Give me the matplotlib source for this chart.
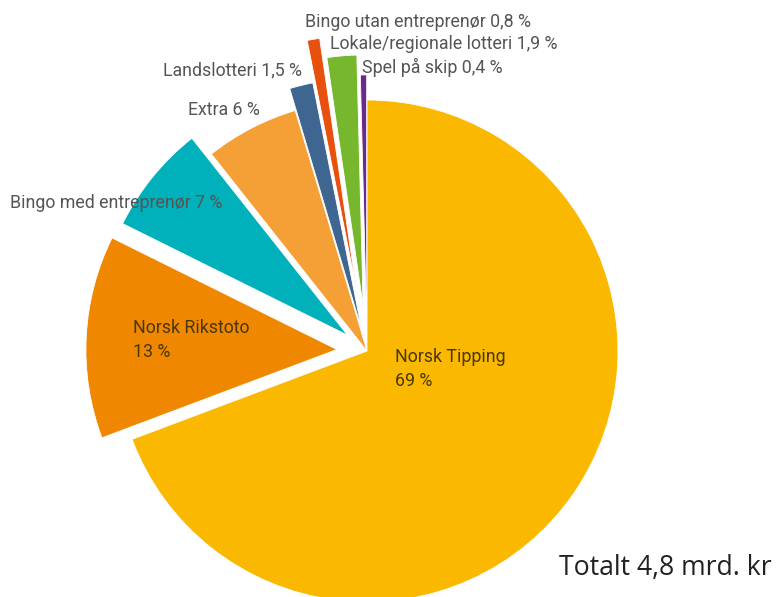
import matplotlib
matplotlib.use("Agg")
import matplotlib.pyplot as plt

categories = ["Norsk Tipping", "Norsk Rikstoto", "Bingo med entreprenør", "Extra",
              "Landslotteri", "Bingo utan entreprenør", "Lokale/regionale lotteri", "Spel på skip"]
shares = [69, 13, 7, 6, 1.5, 0.8, 1.9, 0.4]
share_labels = ["69 %", "13 %", "7 %", "6 %", "1,5 %", "0,8 %", "1,9 %", "0,4 %"]
total_label = "Totalt 4,8 mrd. kr"

colors = ["#FAB800", "#F08700", "#00B0BA", "#F4A037", "#3E6690", "#E8500E", "#77B72E", "#6B2A8A"]
explode = [0.0, 0.12, 0.10, 0.0, 0.09, 0.26, 0.18, 0.10]

W, H = 776, 597
cx, cy, R = 367, 351, 251

fig = plt.figure(figsize=(W / 100, H / 100), dpi=100)
ax = fig.add_axes([0, 0, 1, 1])
ax.pie(shares, colors=colors, explode=explode, startangle=90, counterclock=False,
       radius=1.0, wedgeprops=dict(edgecolor="white", linewidth=0.6))
ax.set_xlim(-cx / R, (W - cx) / R)
ax.set_ylim(-(H - cy) / R, cy / R)
ax.set_aspect("auto")
ax.axis("off")

def px(x, y):
    return (x - cx) / R, (cy - y) / R

font = dict(family=["Roboto", "DejaVu Sans"], fontweight="normal", fontsize=12.8)
outside = "#555555"
inside = "#4a3808"

# outside labels: (index, x_px, y_px)
outside_pos = [(5, 305, 22), (6, 330, 44), (7, 362, 67), (4, 163, 70), (3, 188, 110), (2, 10, 203)]
for i, x, y in outside_pos:
    ax.text(*px(x, y), f"{categories[i]} {share_labels[i]}", ha="left", va="center",
            color=outside, **font)

inside_pos = [(0, 395, 369), (1, 133, 340)]
for i, x, y in inside_pos:
    ax.text(*px(x, y), f"{categories[i]}\n{share_labels[i]}", ha="left", va="center",
            color=inside, linespacing=1.45, **font)

ax.text(*px(772, 568), total_label, ha="right", va="center", color="#222222",
        family=["Open Sans", "DejaVu Sans"], fontsize=19.2)

fig.savefig("out.png", dpi=100)
